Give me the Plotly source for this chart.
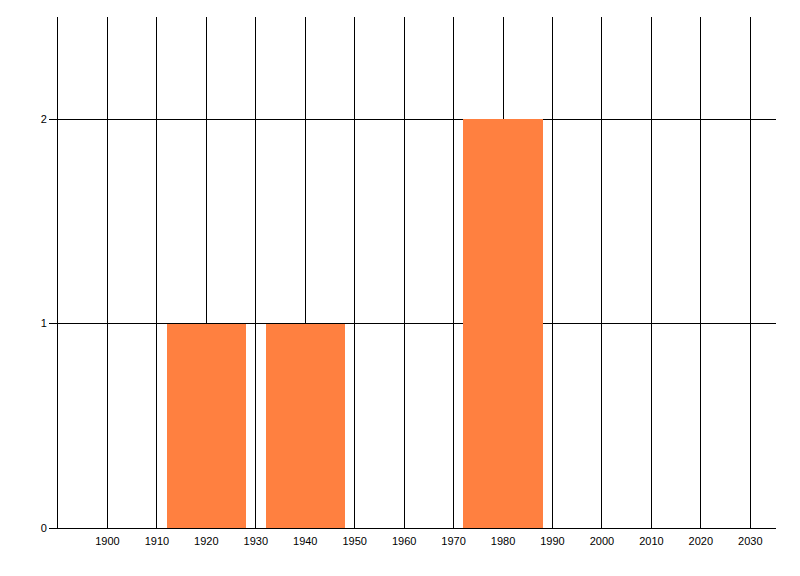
import plotly.graph_objs as go

# Data
decades = [1920, 1940, 1980]
counts = [1, 1, 2]
x_ticks = list(range(1900, 2031, 10))
y_ticks = [0, 1, 2]

fig = go.Figure()
fig.add_trace(go.Bar(
    x=decades,
    y=counts,
    width=16,
    marker=dict(color='#FF8040', line=dict(width=0)),
    showlegend=False
))

# page body has an 8px margin, so the figure is sized to fit inside it
fig.update_layout(
    width=784,
    height=560,
    margin=dict(l=50, r=16, t=9, b=40),
    plot_bgcolor='white',
    paper_bgcolor='white',
    font=dict(family='Liberation Sans, DejaVu Sans, sans-serif', size=11, color='black'),
    bargap=0,
    xaxis=dict(
        range=[1890, 2035.2],
        tickvals=x_ticks,
        ticktext=[str(v) for v in x_ticks],
        showgrid=True,
        gridcolor='black',
        gridwidth=1,
        showline=True,
        linecolor='black',
        linewidth=1,
        ticks='',
        ticklabelstandoff=3,
        zeroline=False,
        fixedrange=True,
    ),
    yaxis=dict(
        range=[0, 2.5],
        tickvals=y_ticks,
        showgrid=True,
        gridcolor='black',
        gridwidth=1,
        showline=True,
        linecolor='black',
        linewidth=1,
        ticks='outside',
        ticklen=8,
        tickcolor='black',
        zeroline=False,
        fixedrange=True,
    ),
)

fig.write_html("out.html")
